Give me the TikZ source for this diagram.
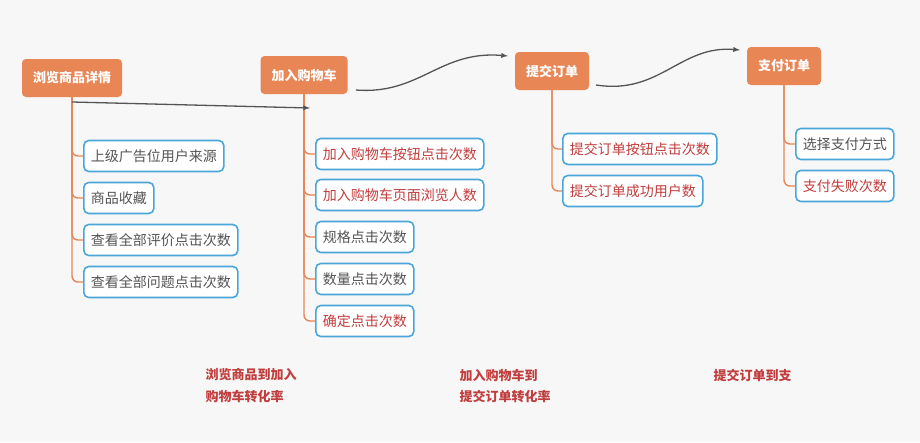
\documentclass[tikz,border=0pt]{standalone}
\usepackage{fontspec}
\setmainfont{Noto Sans CJK SC}
\definecolor{bgcolor}{rgb}{0.968, 0.968, 0.968}
\definecolor{stagecolor}{rgb}{0.910, 0.525, 0.333}
\definecolor{itemline}{rgb}{0.290, 0.650, 0.850}
\definecolor{itemtext}{rgb}{0.330, 0.330, 0.330}
\definecolor{itemred}{rgb}{0.760, 0.240, 0.240}
\definecolor{flowcolor}{rgb}{0.330, 0.330, 0.330}
\begin{document}
\begin{tikzpicture}[x=1pt,y=-1pt,
  stage/.style={fill=stagecolor,rounded corners=4pt,text=white,font=\bfseries\fontsize{13}{15}\selectfont,minimum height=38pt,inner xsep=11pt},
  item/.style={draw=itemline,line width=1.6pt,fill=white,rounded corners=5pt,anchor=west,text=itemtext,font=\fontsize{14}{16}\selectfont,minimum height=31pt,inner xsep=7pt},
  hot/.style={text=itemred},
  branch/.style={draw=stagecolor,line width=1.4pt,rounded corners=6pt},
  flow/.style={draw=flowcolor,line width=1.3pt,-latex},
  rate/.style={anchor=west,text=itemred,font=\bfseries\fontsize{13}{15}\selectfont}]
\fill[bgcolor] (0,0) rectangle (920,442);
\useasboundingbox (0,0) rectangle (920,442);
% stages
\node[stage] (browse) at (72,78) {浏览商品详情};
\node[stage] (cart) at (304,75) {加入购物车};
\node[stage] (order) at (552,71) {提交订单};
\node[stage] (pay) at (784,66) {支付订单};
% items
\node[item] (b1) at (83,156) {上级广告位用户来源};
\node[item] (b2) at (83,198) {商品收藏};
\node[item] (b3) at (83,240) {查看全部评价点击次数};
\node[item] (b4) at (83,282) {查看全部问题点击次数};
\node[item,hot] (c1) at (315,154) {加入购物车按钮点击次数};
\node[item,hot] (c2) at (315,195) {加入购物车页面浏览人数};
\node[item] (c3) at (315,237) {规格点击次数};
\node[item] (c4) at (315,279) {数量点击次数};
\node[item,hot] (c5) at (315,321) {确定点击次数};
\node[item,hot] (o1) at (562,149) {提交订单按钮点击次数};
\node[item,hot] (o2) at (562,191) {提交订单成功用户数};
\node[item] (p1) at (795,144) {选择支付方式};
\node[item,hot] (p2) at (795,186) {支付失败次数};
% branches
\foreach \s/\k in {browse/b1,browse/b2,browse/b3,browse/b4,cart/c1,cart/c2,cart/c3,cart/c4,cart/c5,order/o1,order/o2,pay/p1,pay/p2}
  \draw[branch] (\s.south) |- (\k.west);
% flow
\coordinate (split) at (72,102);
\coordinate (cartin) at (310,108);
\coordinate (cartout) at (356,90);
\coordinate (orderin) at (508,56);
\coordinate (orderout) at (596,85);
\coordinate (payin) at (740,50);
\draw[flow] (split) -- (cartin);
\draw[flow] (cartout) .. controls (420,95) and (440,50) .. (orderin);
\draw[flow] (orderout) .. controls (660,95) and (680,45) .. (payin);
% rates
\node[rate] (r1) at (202,375) {浏览商品到加入};
\node[rate] (r2) at (202,397) {购物车转化率};
\node[rate] (r3) at (456,375) {加入购物车到};
\node[rate] (r4) at (456,397) {提交订单转化率};
\node[rate] (r5) at (710,375) {提交订单到支};
\end{tikzpicture}
\end{document}
